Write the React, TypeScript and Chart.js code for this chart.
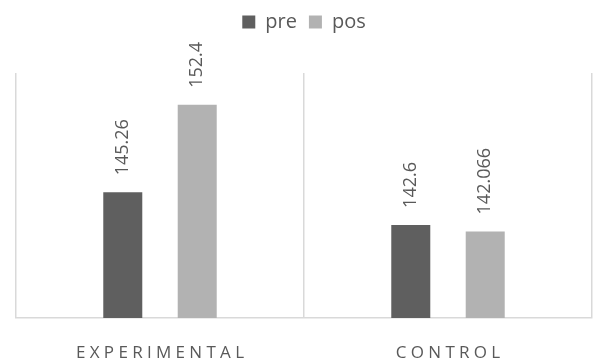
import React, { useEffect, useRef } from 'react';
import { Chart, registerables } from 'chart.js';

Chart.register(...registerables);

const categories = ['EXPERIMENTAL', 'CONTROL'];
const seriesNames = ['pre', 'pos'];
const preValues = [145.26, 142.6];
const posValues = [152.4, 142.066];
const yMin = 135;
const yMax = 155;

const TEXT = '#595959';
const FONT = "'Open Sans', 'Liberation Sans', sans-serif";

const legendSpacePlugin = {
  id: 'legendSpace',
  beforeInit(chart: any) {
    const legend = chart.legend;
    if (!legend) return;
    const origFit = legend.fit;
    legend.fit = function () {
      origFit.call(this);
      this.height += 31;
    };
  },
};

const dataLabelPlugin = {
  id: 'dataLabels',
  afterDatasetsDraw(chart: any) {
    const ctx = chart.ctx;
    chart.data.datasets.forEach((ds: any, i: number) => {
      const meta = chart.getDatasetMeta(i);
      meta.data.forEach((bar: any, j: number) => {
        ctx.save();
        ctx.translate(bar.x, bar.y - 17);
        ctx.rotate(-Math.PI / 2);
        ctx.font = `18px ${FONT}`;
        ctx.fillStyle = TEXT;
        ctx.textAlign = 'left';
        ctx.textBaseline = 'middle';
        ctx.fillText(String(ds.data[j]), 0, 0);
        ctx.restore();
      });
    });
  },
};

const categoryLabelPlugin = {
  id: 'categoryLabels',
  afterDraw(chart: any) {
    const ctx = chart.ctx;
    const xs = chart.scales.x;
    const ls = 4.3;
    ctx.save();
    ctx.font = `17px ${FONT}`;
    ctx.fillStyle = TEXT;
    (ctx as any).letterSpacing = `${ls}px`;
    ctx.textAlign = 'center';
    ctx.textBaseline = 'middle';
    chart.data.labels.forEach((lab: string, i: number) => {
      const x = xs.getPixelForTick(i);
      ctx.fillText(lab, x + ls / 2, 353);
    });
    ctx.restore();
  },
};

export default function App() {
  const ref = useRef<HTMLCanvasElement | null>(null);
  useEffect(() => {
    document.body.style.margin = '0';
    if (!ref.current) return;
    const chart = new Chart(ref.current, {
      type: 'bar',
      data: {
        labels: categories,
        datasets: [
          { label: seriesNames[0], data: preValues, backgroundColor: '#5f5f5f', borderWidth: 0 },
          { label: seriesNames[1], data: posValues, backgroundColor: '#b2b2b2', borderWidth: 0 },
        ],
      },
      options: {
        responsive: false,
        animation: false,
        categoryPercentage: 0.517,
        barPercentage: 0.524,
        layout: { padding: { left: 16, right: 2, top: 0, bottom: 44 } },
        plugins: {
          legend: {
            position: 'top',
            labels: {
              boxWidth: 13,
              boxHeight: 13,
              padding: 12,
              color: TEXT,
              font: { size: 20, family: FONT },
            },
          },
          tooltip: { enabled: false },
        },
        scales: {
          x: {
            grid: { offset: true, color: '#d9d9d9', drawTicks: false, lineWidth: 1.5 },
            border: { color: '#d9d9d9', width: 1.5 },
            ticks: { display: false },
          },
          y: {
            display: false,
            min: yMin,
            max: yMax,
          },
        },
      } as any,
      plugins: [legendSpacePlugin, dataLabelPlugin, categoryLabelPlugin],
    });
    return () => chart.destroy();
  }, []);
  return (
    <div style={{ position: 'absolute', left: 0, top: 0, width: 594, height: 362 }}>
      <canvas ref={ref} width={594} height={362} />
    </div>
  );
}
